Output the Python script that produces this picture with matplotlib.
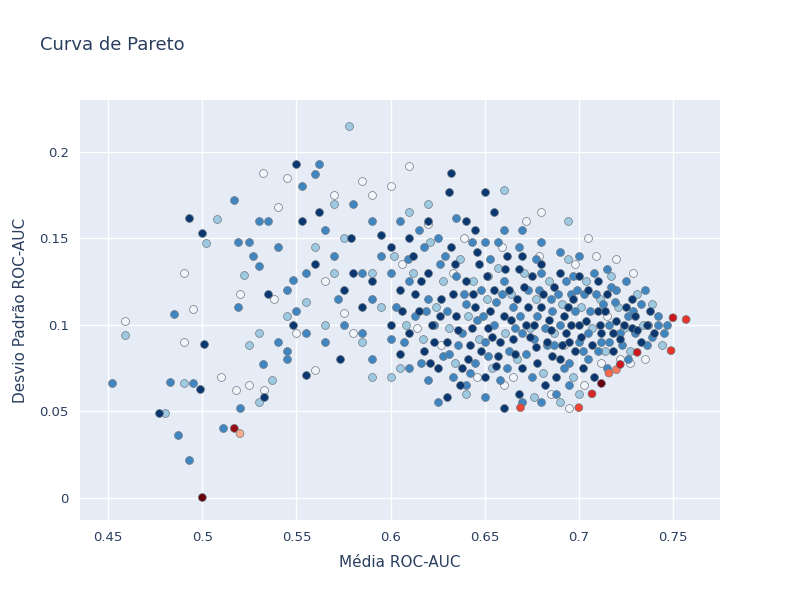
import matplotlib
matplotlib.use("Agg")
import matplotlib.pyplot as plt
from matplotlib.ticker import FuncFormatter

dark = [(0.55,0.193),(0.493,0.162),(0.5,0.153),(0.535,0.118),(0.501,0.089),(0.499,0.063),(0.477,0.049),(0.533,0.058),(0.555,0.071),(0.573,0.08),(0.632,0.188),(0.631,0.177),(0.562,0.165),(0.575,0.12),(0.553,0.16),(0.579,0.15),(0.548,0.1),(0.56,0.135),
(0.605,0.12),(0.61,0.095),(0.612,0.14),(0.615,0.108),(0.618,0.085),(0.62,0.13),(0.622,0.1),(0.625,0.075),(0.627,0.115),(0.63,0.09),(0.632,0.145),(0.635,0.105),(0.637,0.065),(0.64,0.125),(0.642,0.088),(0.645,0.11),(0.647,0.135),(0.65,0.07),(0.652,0.098),(0.655,0.12),(0.657,0.082),(0.66,0.105),(0.662,0.14),(0.665,0.092),(0.667,0.115),(0.67,0.075),(0.672,0.1),(0.675,0.128),(0.677,0.087),(0.68,0.11),(0.682,0.065),(0.685,0.097),(0.687,0.122),(0.69,0.08),(0.692,0.105),(0.695,0.09),(0.697,0.115),(0.7,0.1),(0.702,0.075),(0.705,0.12),(0.707,0.088),(0.71,0.108),(0.712,0.095),(0.715,0.118),(0.718,0.085),(0.72,0.102),(0.722,0.092),(0.725,0.11),(0.728,0.098),(0.73,0.105),(0.733,0.09),(0.736,0.1),(0.74,0.095),(0.645,0.155),(0.655,0.165),(0.65,0.177),(0.63,0.058),(0.66,0.052),(0.668,0.06),(0.64,0.16),(0.62,0.16),(0.61,0.15),(0.6,0.145),(0.595,0.152),(0.59,0.125),(0.585,0.11),(0.58,0.13),(0.6,0.1),(0.605,0.083),(0.67,0.14),(0.68,0.135),(0.69,0.13),(0.7,0.128),(0.71,0.125),(0.658,0.09),(0.663,0.12),(0.673,0.11),(0.683,0.09),(0.693,0.095),(0.653,0.108),(0.643,0.098),(0.633,0.118),(0.623,0.09),(0.613,0.118),(0.648,0.085),(0.638,0.075),(0.678,0.078),(0.688,0.07),(0.698,0.085),(0.708,0.07),(0.718,0.095),(0.728,0.115),(0.738,0.108),
(0.626,0.105),(0.636,0.097),(0.644,0.118),(0.654,0.093),(0.664,0.103),(0.674,0.093),(0.684,0.103),(0.694,0.11),(0.704,0.102),(0.714,0.108),(0.724,0.1),(0.651,0.128),(0.661,0.132),(0.671,0.122),(0.681,0.118),(0.691,0.088),(0.701,0.093),(0.641,0.08),(0.656,0.076),(0.666,0.083),(0.676,0.1),(0.686,0.082),(0.696,0.1),(0.634,0.135),(0.616,0.125),(0.606,0.108),(0.621,0.078),(0.711,0.1),(0.731,0.097),(0.646,0.142),(0.668,0.132)]

mid = [(0.452,0.066),(0.485,0.106),(0.483,0.067),(0.487,0.036),(0.493,0.022),(0.517,0.172),(0.519,0.148),(0.519,0.11),(0.525,0.148),(0.53,0.16),(0.535,0.16),(0.527,0.14),(0.53,0.134),(0.54,0.145),(0.545,0.12),(0.548,0.126),(0.553,0.18),(0.56,0.187),(0.562,0.193),(0.565,0.155),(0.555,0.13),(0.545,0.085),(0.55,0.108),(0.57,0.14),(0.572,0.115),(0.575,0.1),(0.58,0.17),(0.59,0.16),(0.585,0.095),(0.59,0.08),(0.54,0.09),(0.532,0.077),(0.52,0.052),(0.545,0.08),(0.555,0.095),(0.565,0.09),(0.495,0.066),(0.511,0.04),
(0.6,0.13),(0.603,0.11),(0.607,0.09),(0.61,0.125),(0.613,0.105),(0.616,0.078),(0.618,0.145),(0.62,0.115),(0.623,0.1),(0.626,0.135),(0.628,0.082),(0.63,0.108),(0.633,0.07),(0.635,0.128),(0.638,0.095),(0.64,0.112),(0.643,0.148),(0.645,0.078),(0.648,0.12),(0.65,0.09),(0.653,0.138),(0.655,0.1),(0.658,0.068),(0.66,0.125),(0.663,0.085),(0.665,0.11),(0.668,0.145),(0.67,0.095),(0.673,0.12),(0.675,0.07),(0.678,0.105),(0.68,0.13),(0.683,0.088),(0.685,0.115),(0.688,0.06),(0.69,0.1),(0.693,0.125),(0.695,0.078),(0.698,0.108),(0.7,0.09),(0.703,0.118),(0.705,0.095),(0.708,0.13),(0.71,0.085),(0.713,0.112),(0.716,0.1),(0.72,0.12),(0.723,0.088),(0.726,0.105),(0.73,0.095),(0.733,0.112),(0.737,0.1),(0.742,0.105),(0.745,0.095),(0.747,0.1),(0.64,0.065),(0.65,0.058),(0.67,0.055),(0.68,0.055),(0.625,0.055),(0.635,0.162),(0.625,0.15),(0.615,0.155),(0.605,0.16),(0.595,0.14),(0.59,0.115),(0.585,0.13),(0.6,0.092),(0.61,0.075),(0.62,0.068),(0.66,0.155),(0.67,0.155),(0.69,0.142),(0.7,0.14),(0.715,0.132),(0.725,0.125),(0.735,0.12),(0.656,0.113),(0.646,0.103),(0.636,0.088),(0.666,0.098),(0.676,0.092),(0.686,0.108),(0.696,0.118),(0.706,0.108),(0.716,0.09),(0.726,0.08),(0.736,0.088),(0.68,0.148),(0.65,0.148),(0.705,0.08),(0.695,0.065),(0.715,0.075),
(0.629,0.14),(0.639,0.118),(0.649,0.105),(0.659,0.118),(0.669,0.105),(0.679,0.12),(0.689,0.118),(0.699,0.12),(0.709,0.118),(0.719,0.113),(0.729,0.108),(0.739,0.093),(0.619,0.108),(0.609,0.138),(0.631,0.083),(0.642,0.072),(0.662,0.075),(0.672,0.083),(0.682,0.098),(0.692,0.075),(0.702,0.085),(0.712,0.09),(0.722,0.095),(0.657,0.148),(0.677,0.138),(0.697,0.128),(0.717,0.122),(0.652,0.082),(0.687,0.088),(0.742,0.1)]

light = [(0.459,0.094),(0.48,0.049),(0.49,0.066),(0.502,0.147),(0.508,0.161),(0.522,0.129),(0.525,0.088),(0.53,0.095),(0.537,0.068),(0.53,0.055),(0.545,0.105),(0.565,0.1),(0.57,0.17),(0.578,0.215),(0.57,0.13),(0.59,0.13),(0.595,0.11),(0.585,0.09),(0.59,0.07),(0.555,0.113),(0.56,0.145),(0.575,0.15),
(0.602,0.14),(0.608,0.1),(0.612,0.13),(0.617,0.092),(0.621,0.148),(0.624,0.11),(0.628,0.125),(0.631,0.098),(0.634,0.078),(0.637,0.138),(0.641,0.105),(0.644,0.125),(0.647,0.092),(0.651,0.115),(0.654,0.075),(0.657,0.133),(0.661,0.095),(0.664,0.118),(0.667,0.08),(0.671,0.13),(0.674,0.098),(0.677,0.115),(0.681,0.072),(0.684,0.125),(0.687,0.095),(0.691,0.112),(0.694,0.138),(0.697,0.07),(0.701,0.11),(0.704,0.125),(0.707,0.098),(0.711,0.115),(0.714,0.085),(0.717,0.128),(0.721,0.11),(0.724,0.098),(0.727,0.085),(0.731,0.118),(0.734,0.1),(0.739,0.112),(0.744,0.088),(0.694,0.16),(0.66,0.178),(0.64,0.06),(0.676,0.058),(0.69,0.055),(0.7,0.06),(0.61,0.165),(0.62,0.17),(0.6,0.07),(0.605,0.075)]

white = [(0.459,0.102),(0.49,0.13),(0.495,0.109),(0.49,0.09),(0.52,0.118),(0.518,0.062),(0.51,0.07),(0.532,0.188),(0.545,0.185),(0.54,0.168),(0.538,0.115),(0.525,0.065),(0.533,0.062),(0.56,0.074),(0.57,0.175),(0.585,0.183),(0.6,0.18),(0.61,0.192),(0.565,0.125),(0.575,0.107),(0.58,0.095),(0.59,0.175),(0.55,0.095),
(0.606,0.135),(0.614,0.098),(0.62,0.158),(0.627,0.088),(0.633,0.13),(0.639,0.15),(0.646,0.07),(0.652,0.128),(0.659,0.145),(0.665,0.07),(0.672,0.16),(0.679,0.14),(0.685,0.06),(0.692,0.088),(0.698,0.135),(0.703,0.065),(0.709,0.14),(0.715,0.105),(0.722,0.08),(0.729,0.13),(0.735,0.08),(0.72,0.138),(0.705,0.15),(0.68,0.165),(0.66,0.065),(0.695,0.052),(0.712,0.078),(0.727,0.078)]

pareto_x = [0.5, 0.517, 0.52, 0.669, 0.7, 0.707, 0.712, 0.716, 0.72, 0.722, 0.731, 0.749, 0.75, 0.757]
pareto_y = [0.0, 0.04, 0.037, 0.052, 0.052, 0.06, 0.066, 0.072, 0.074, 0.077, 0.084, 0.085, 0.104, 0.103]
pareto_shade = [1.0, 0.9, 0.3, 0.6, 0.6, 0.7, 1.0, 0.5, 0.45, 0.75, 0.75, 0.65, 0.75, 0.65]

fig = plt.figure(figsize=(8, 6), dpi=100)
ax = fig.add_axes([80/800, 80/600, 640/800, 420/600])
ax.set_facecolor("#E5ECF6")
ax.grid(True, color="white", linewidth=1)
ax.set_axisbelow(True)
for s in ax.spines.values():
    s.set_visible(False)

groups = [(white, "#f2f6fb"), (light, "#9ecae1"), (mid, "#3f86c0"), (dark, "#0b3770")]
for pts, col in groups:
    xs = [p[0] for p in pts]; ys = [p[1] for p in pts]
    ax.scatter(xs, ys, s=32, c=col, edgecolors="#6f7780", linewidths=0.5, zorder=2)
ax.scatter(pareto_x, pareto_y, s=32, c=pareto_shade, cmap="Reds", vmin=0, vmax=1,
           edgecolors="#6f7780", linewidths=0.5, zorder=3)

ax.set_xlim(0.435, 0.775)
ax.set_ylim(-0.013, 0.23)
ax.set_xticks([0.45, 0.5, 0.55, 0.6, 0.65, 0.7, 0.75])
ax.set_yticks([0, 0.05, 0.1, 0.15, 0.2])
fmt = FuncFormatter(lambda v, p: f"{v:g}")
ax.xaxis.set_major_formatter(fmt); ax.yaxis.set_major_formatter(fmt)
ax.tick_params(length=0, colors="#2a3f5f", labelsize=9.5, pad=8)
ax.set_xlabel("Média ROC-AUC", color="#2a3f5f", fontsize=11, labelpad=8)
ax.set_ylabel("Desvio Padrão ROC-AUC", color="#2a3f5f", fontsize=11, labelpad=8)
fig.text(40/800, 1-45/600, "Curva de Pareto", color="#2a3f5f", fontsize=13, va="center")
fig.savefig("out.png", dpi=100)
